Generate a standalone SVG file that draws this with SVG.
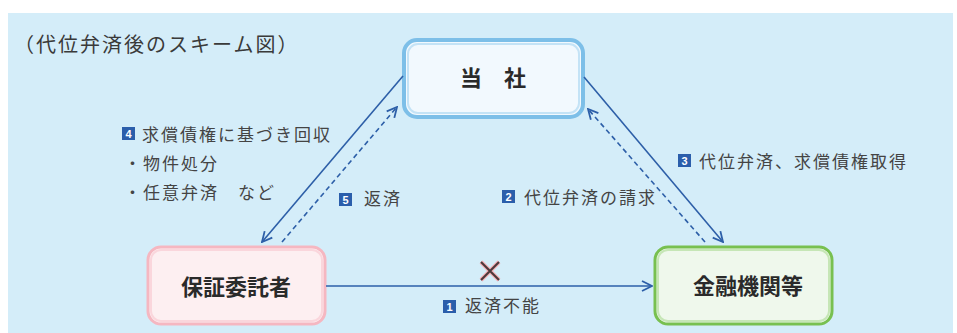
<svg xmlns="http://www.w3.org/2000/svg" width="957" height="333" viewBox="0 0 957 333">
<style>
text{font-family:"Noto Sans CJK JP","Noto Sans CJK SC",sans-serif;}
.lbl{font-size:17px;fill:#444;letter-spacing:2px;}
.title{font-size:20px;fill:#3a3a3a;letter-spacing:2px;}
.node{font-size:22px;font-weight:700;fill:#2a2a2a;}
.badge{fill:#2b5eab;}
.bnum{font-size:11px;font-weight:700;fill:#fff;font-family:"Liberation Sans",sans-serif;}
.solid{stroke:#2d5fa8;stroke-width:1.6;fill:none;}
.dash{stroke:#2d5fa8;stroke-width:1.6;fill:none;stroke-dasharray:5 3.5;}
</style>
<defs>
<marker id="ah" viewBox="0 0 12 12" refX="11" refY="6" markerWidth="12" markerHeight="12" markerUnits="userSpaceOnUse" orient="auto">
<path d="M1,1 L11,6 L1,11" fill="none" stroke="#2d5fa8" stroke-width="1.8"/>
</marker>
</defs>
<rect x="0" y="0" width="957" height="333" fill="#ffffff"/>
<rect x="8" y="13" width="945" height="320" fill="#d4edf9"/>
<text class="title" x="14" y="52">（代位弁済後のスキーム図）</text>

<g id="node-tosha">
<rect x="404" y="40" width="179" height="77" rx="13" fill="#f2f9fe" stroke="#7dbfe8" stroke-width="4"/>
<rect x="408" y="44" width="171" height="69" rx="10" fill="none" stroke="#c4e3f6" stroke-width="2"/>
<text class="node" x="493" y="86" text-anchor="middle">当　社</text>
</g>
<g id="node-hosho">
<rect x="148" y="247" width="177" height="77" rx="13" fill="#fdeff1" stroke="#f5b7c1" stroke-width="3"/>
<rect x="151" y="250" width="171" height="71" rx="10" fill="none" stroke="#fad6dc" stroke-width="2"/>
<text class="node" x="236" y="295" text-anchor="middle">保証委託者</text>
</g>
<g id="node-kinyu">
<rect x="655" y="247" width="177" height="77" rx="13" fill="#eff8ec" stroke="#78c050" stroke-width="3"/>
<rect x="658" y="250" width="171" height="71" rx="10" fill="none" stroke="#c6e6b6" stroke-width="2"/>
<text class="node" x="748" y="294" text-anchor="middle">金融機関等</text>
</g>

<g id="connectors">
<line class="solid" x1="403" y1="76" x2="262" y2="242" marker-end="url(#ah)"/>
<line class="dash" x1="282" y1="242" x2="397" y2="107" marker-end="url(#ah)"/>
<line class="solid" x1="584" y1="77" x2="723" y2="242" marker-end="url(#ah)"/>
<line class="dash" x1="705" y1="242" x2="588" y2="109" marker-end="url(#ah)"/>
<line class="solid" x1="326" y1="286" x2="652" y2="286" marker-end="url(#ah)"/>
<g id="cross">
<path d="M481,262 L499,280 M499,262 L481,280" stroke="#f4a8b0" stroke-width="4" fill="none"/>
<path d="M481,262 L499,280 M499,262 L481,280" stroke="#4a3a3c" stroke-width="2" fill="none"/>
</g>
</g>

<g id="labels">
<rect class="badge" x="122" y="127" width="13" height="13"/>
<text class="bnum" x="128.5" y="137.5" text-anchor="middle">4</text>
<text class="lbl" x="142" y="141">求償債権に基づき回収</text>
<text class="lbl" x="124" y="170">・物件処分</text>
<text class="lbl" x="124" y="199">・任意弁済　など</text>

<rect class="badge" x="339" y="193" width="13" height="13"/>
<text class="bnum" x="345.5" y="203.5" text-anchor="middle">5</text>
<text class="lbl" x="364" y="205">返済</text>

<rect class="badge" x="502" y="190" width="13" height="13"/>
<text class="bnum" x="508.5" y="200.5" text-anchor="middle">2</text>
<text class="lbl" x="524" y="204">代位弁済の請求</text>

<rect class="badge" x="678" y="154" width="13" height="13"/>
<text class="bnum" x="684.5" y="164.5" text-anchor="middle">3</text>
<text class="lbl" x="699" y="168">代位弁済、求償債権取得</text>

<rect class="badge" x="443" y="300" width="13" height="13"/>
<text class="bnum" x="449.5" y="310.5" text-anchor="middle">1</text>
<text class="lbl" x="465" y="312">返済不能</text>
</g>
</svg>
